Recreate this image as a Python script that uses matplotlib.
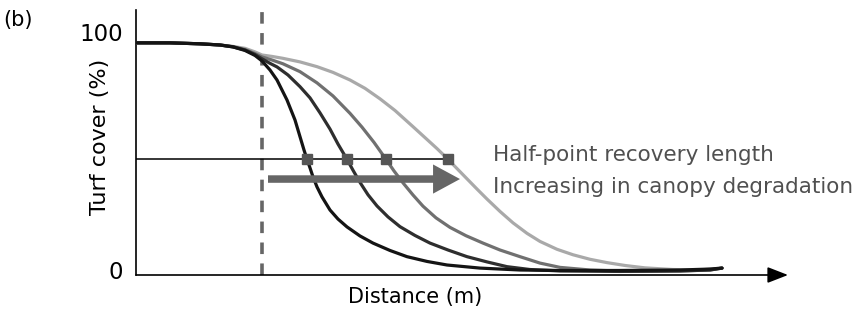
"""Schematic of turf cover recovery with distance for increasing canopy degradation."""

import matplotlib
matplotlib.use("Agg")
import matplotlib.pyplot as plt

# Curves (distance in arbitrary units, cover in %).
dist_1 = [0, 34, 64, 84, 97, 109, 119, 126, 134, 141, 146, 151, 155, 159, 162, 165, 168,
          171, 174, 177, 181, 186, 194, 202, 211, 224, 237, 254, 271, 291, 311, 344, 384,
          424, 484, 544, 574, 586]
cover_1 = [95.4, 95.4, 95.0, 94.5, 93.7, 92.2, 90.1, 87.8, 84.0, 79.8, 75.6, 71.4, 67.2,
           63.0, 58.8, 54.6, 50.4, 46.5, 42.9, 39.1, 34.9, 30.7, 25.2, 21.4, 18.1, 14.3,
           11.3, 8.2, 5.6, 3.6, 2.1, 0.8, 0.0, -0.2, -0.2, 0.0, 0.4, 0.8]

dist_2 = [0, 34, 64, 84, 97, 109, 119, 126, 134, 141, 152, 164, 174, 184, 194, 202, 211,
          217, 224, 232, 241, 252, 264, 279, 294, 312, 331, 351, 371, 394, 424, 484, 544,
          574, 586]
cover_2 = [95.4, 95.4, 95.0, 94.5, 93.7, 92.4, 90.5, 88.7, 86.8, 85.3, 81.9, 77.0, 72.3,
           66.0, 59.2, 52.9, 46.5, 41.9, 36.8, 31.6, 26.9, 22.3, 18.2, 14.5, 11.3, 8.4,
           5.6, 3.4, 1.4, 0.2, -0.4, -0.6, -0.4, 0.0, 0.8]

dist_3 = [0, 34, 64, 84, 97, 109, 119, 126, 136, 147, 164, 181, 197, 214, 226, 238, 250,
          258, 267, 277, 287, 300, 314, 330, 347, 364, 384, 404, 424, 454, 494, 544, 574,
          586]
cover_3 = [95.4, 95.4, 95.0, 94.5, 93.8, 92.6, 90.9, 89.5, 88.2, 86.6, 83.3, 78.6, 73.1,
           65.8, 60.0, 53.6, 46.5, 41.6, 36.6, 31.5, 26.8, 21.9, 17.9, 14.4, 11.3, 8.4,
           5.6, 2.9, 1.1, 0.0, -0.6, -0.4, 0.0, 0.8]

dist_4 = [0, 34, 64, 84, 97, 109, 119, 126, 136, 147, 164, 181, 197, 214, 229, 244, 259,
          277, 289, 301, 312, 321, 331, 341, 351, 364, 377, 391, 404, 421, 437, 454, 471,
          489, 509, 537, 564, 586]
cover_4 = [95.4, 95.4, 95.0, 94.5, 93.9, 93.1, 91.6, 90.3, 89.7, 88.9, 87.4, 85.4, 83.0,
           79.8, 76.3, 71.9, 67.0, 60.2, 55.6, 51.0, 46.5, 42.6, 38.3, 34.0, 29.8, 24.6,
           19.8, 15.4, 12.0, 8.7, 6.4, 4.5, 3.1, 1.9, 0.9, 0.2, 0.0, 0.8]

half_dist = [171, 211, 250, 312]
half_cover = 46.5
edge_dist = 126
arrow_start, arrow_end, arrow_cover = 132, 324, 38.2

curves = [(dist_1, cover_1, "#141414"), (dist_2, cover_2, "#2e2e2e"),
          (dist_3, cover_3, "#707070"), (dist_4, cover_4, "#a9a9a9")]

fig = plt.figure(figsize=(8.56, 3.12), dpi=100)
ax = fig.add_axes([136 / 856, 37 / 312, 652 / 856, 265 / 312])
ax.set_xlim(0, 652)
ax.set_ylim(-2.1, 109.2)

# reversed so the lightest curve sits underneath
for d, c, col in reversed(curves):
    ax.plot(d, c, color=col, lw=2.3, solid_capstyle="round", solid_joinstyle="round",
            zorder=3)

ax.axvline(edge_dist, color="#666666", lw=2.6, ls=(0, (3.2, 2.6)), zorder=2)
ax.plot([0, half_dist[-1]], [half_cover, half_cover], color="black", lw=1.1, zorder=2)
ax.plot(half_dist, [half_cover] * len(half_dist), ls="none", marker="s", ms=6.5,
        color="#555555", zorder=4)

ax.annotate("", xy=(arrow_end, arrow_cover), xytext=(arrow_start, arrow_cover),
            arrowprops=dict(arrowstyle="simple,head_length=0.97,head_width=1.05,tail_width=0.27",
                            mutation_scale=20, color="#666666", lw=0,
                            shrinkA=0, shrinkB=0), zorder=5)

ax.text(357, 45.8, "Half-point recovery length", fontsize=15.5, color="#505050",
        va="baseline", ha="left")
ax.text(357, 32.4, "Increasing in canopy degradation", fontsize=15.5, color="#505050",
        va="baseline", ha="left")

# axes: plain left spine, arrowed bottom axis
for s in ["top", "right", "bottom"]:
    ax.spines[s].set_visible(False)
ax.spines["left"].set_linewidth(1.2)
ax.annotate("", xy=(1.0, 0), xytext=(0, 0), xycoords="axes fraction",
            arrowprops=dict(arrowstyle="-|>,head_length=0.9,head_width=0.35",
                            mutation_scale=14, color="black", lw=1.2,
                            shrinkA=0, shrinkB=0))
ax.set_xticks([])
ax.set_yticks([0, 100])
ax.set_yticklabels(["0", "100"], fontsize=16.5)
ax.tick_params(axis="y", length=0, pad=9.5)

ax.set_ylabel("Turf cover (%)", fontsize=16)
ax.yaxis.set_label_coords(-0.040, 0.52)
ax.set_xlabel("Distance (m)", fontsize=15)
ax.xaxis.set_label_coords(0.428, -0.045)

fig.text(0.004, 0.935, "(b)", fontsize=15, va="center", ha="left")

fig.savefig("out.png", dpi=100)
